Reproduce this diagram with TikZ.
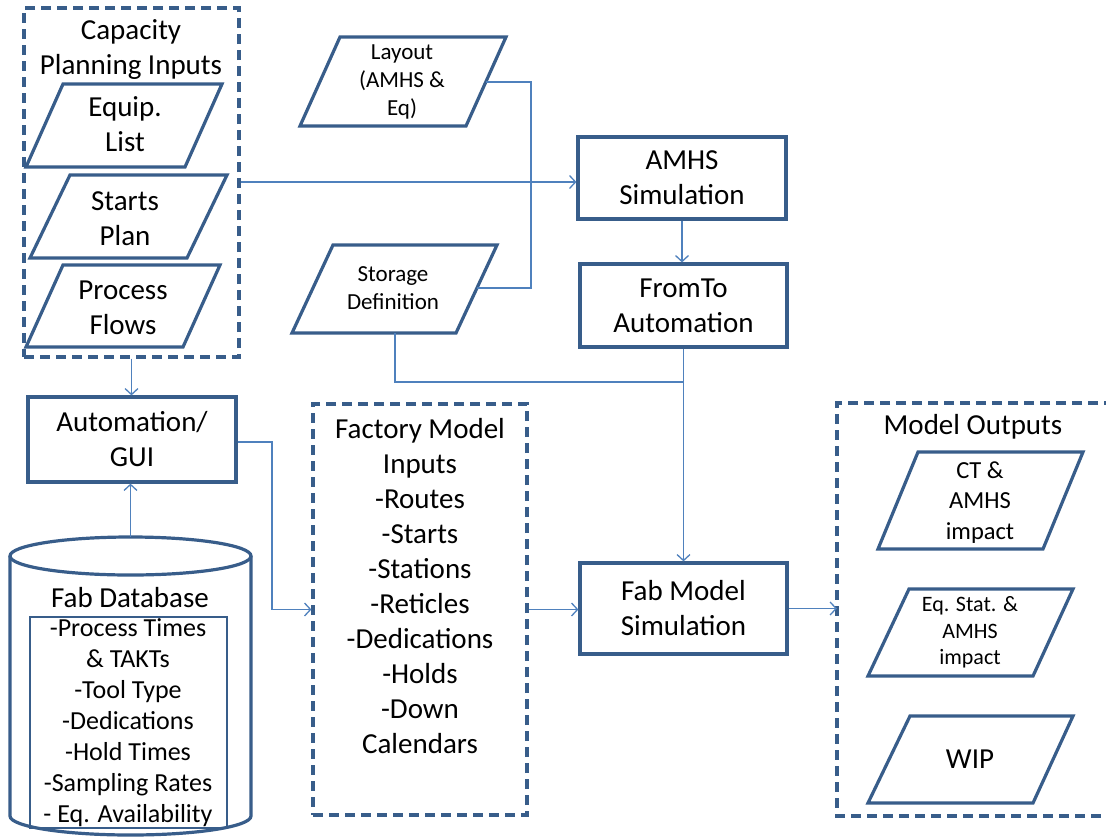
\documentclass[tikz,border=0pt]{standalone}
\usepackage{fontspec}
\setmainfont{Carlito}
\usetikzlibrary{arrows.meta}
\definecolor{boxblue}{RGB}{56,93,138}
\definecolor{lineblue}{RGB}{79,129,189}
\begin{document}
\begin{tikzpicture}[x=1pt,y=-1pt,
  sbox/.style={draw=boxblue,line width=3.2pt,inner sep=0pt,align=center,font=\fontsize{29}{35}\selectfont},
  dbox/.style={draw=boxblue,line width=3.2pt,inner sep=0pt,dash pattern=on 10pt off 6pt},
  pbox/.style={draw=boxblue,line width=3.2pt,line join=miter},
  big/.style={align=center,font=\fontsize{29}{35}\selectfont,inner sep=0pt},
  mid/.style={align=center,font=\fontsize{24.5}{30.5}\selectfont,inner sep=0pt},
  small/.style={align=center,font=\fontsize{23}{28}\selectfont,inner sep=0pt},
  tiny/.style={align=center,font=\fontsize{22}{26.5}\selectfont,inner sep=0pt},
  dbitem/.style={align=center,font=\fontsize{26}{31}\selectfont,inner sep=0pt},
  conn/.style={draw=lineblue,line width=1.3pt},
  arr/.style={conn,-{Straight Barb[length=6pt,width=13pt,line width=1.3pt]}}]
\useasboundingbox (0,0) rectangle (1106,839);
\clip (0,0) rectangle (1106,839);
\fill[white] (0,0) rectangle (1106,839);

% Capacity planning inputs
\node[dbox,minimum width=215pt,minimum height=349pt] (cap) at (131.5,182.5) {};
\node[big] (captitle) at (131,49.5) {Capacity\\Planning Inputs};
\draw[pbox] (63,84) -- (222,84) -- (185,167) -- (26,167) -- cycle;
\node[big] (equip) at (125,124) {Equip.\\List};
\draw[pbox] (70,175) -- (227,175) -- (187,258) -- (30,258) -- cycle;
\node[big] (starts) at (125,218.5) {Starts\\Plan};
\draw[pbox] (63,265) -- (220,265) -- (183,347) -- (26,347) -- cycle;
\node[big] (flows) at (123,307.5) {Process\\Flows};

% Layout and storage
\draw[pbox] (340,37) -- (506,37) -- (466,126) -- (300,126) -- cycle;
\node[small] (layout) at (402,82) {Layout\\(AMHS \&\\Eq)};
\coordinate (layoutE) at (486,82);
\draw[pbox] (333,245) -- (497,245) -- (456,333) -- (292,333) -- cycle;
\node[small] (storage) at (393,288) {Storage\\Definition};
\coordinate (storageE) at (477,288);
\coordinate (storageS) at (395,333);

% Simulation chain
\node[sbox,minimum width=208pt,minimum height=82pt] (amhs) at (682,178) {AMHS\\Simulation};
\node[sbox,minimum width=207pt,minimum height=83pt] (fromto) at (683.5,305.5) {FromTo\\Automation};
\node[sbox,minimum width=207pt,minimum height=91pt] (fab) at (683.5,608.5) {Fab Model\\Simulation};

% Automation / GUI
\node[sbox,minimum width=208pt,minimum height=85pt] (auto) at (132,439.5) {Automation/\\GUI};

% Fab database cylinder
\draw[pbox] (10,556) -- (10,816) arc[start angle=180,end angle=360,x radius=120.5,y radius=-19] -- (251,556);
\draw[pbox] (130.5,556) ellipse[x radius=120.5,y radius=19];
\coordinate (dbtop) at (130.5,537);
\node[big] (dbtitle) at (130,598) {Fab Database};
\draw[draw=boxblue,line width=2.6pt] (30,617) rectangle (227,828);
\node[dbitem] (dbitems) at (128,723) {-Process Times\\\& TAKTs\\-Tool Type\\-Dedications\\-Hold Times\\-Sampling Rates\\- Eq. Availability};

% Factory model inputs
\node[dbox,minimum width=214pt,minimum height=411pt] (fm) at (420,609.5) {};
\node[big] (fmtext) at (420,586.5) {Factory Model\\Inputs\\-Routes\\-Starts\\-Stations\\-Reticles\\-Dedications\\-Holds\\-Down\\Calendars};

% Model outputs (right side runs off the picture)
\draw[draw=boxblue,line width=3.2pt,dash pattern=on 10pt off 6pt] (1130,403) -- (837,403) -- (837,816) -- (1130,816);
\coordinate (outW) at (837,609.5);
\node[big] (outtitle) at (973,427) {Model Outputs};
\draw[pbox] (918,452) -- (1083,452) -- (1043,549) -- (878,549) -- cycle;
\node[mid] (ct) at (980,502.5) {CT \&\\AMHS\\impact};
\draw[pbox] (909,589) -- (1073,589) -- (1033,676) -- (868,676) -- cycle;
\node[tiny] (eqstat) at (970,632.5) {Eq. Stat. \&\\AMHS\\impact};
\draw[pbox] (910,716) -- (1073,716) -- (1033,803) -- (868,803) -- cycle;
\node[big] (wip) at (970,759) {WIP};

% Connectors
\draw[arr] (cap.east |- 0,182) -- (amhs.west |- 0,182);
\draw[conn] (layoutE) -- (531,82) -- (531,288) -- (storageE);
\draw[arr] (amhs.south) -- (amhs.south |- fromto.north);
\coordinate (join) at (683.5,382);
\draw[conn] (storageS) |- (join);
\draw[arr] (fromto.south) -- (fab.north);
\draw[arr] (cap.south) -- (cap.south |- auto.north);
\draw[arr] (dbtop) -- (dbtop |- auto.south);
\draw[arr] (auto.east |- 0,442) -- (272,442) |- (fm.west);
\draw[arr] (fm.east) -- (fab.west |- fm.east);
\draw[arr] (fab.east) -- (outW |- fab.east);
\end{tikzpicture}
\end{document}
